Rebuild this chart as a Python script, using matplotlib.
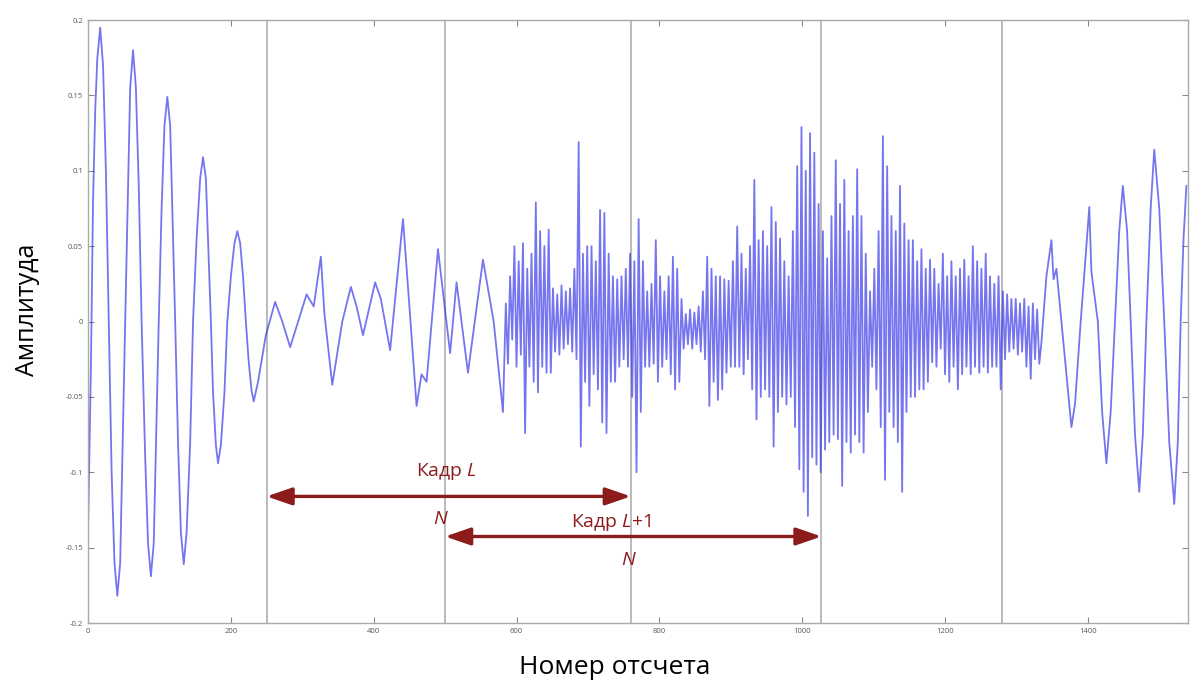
import numpy as np
import matplotlib
matplotlib.use("Agg")
import matplotlib.pyplot as plt

plt.rcParams['font.family'] = ['Open Sans', 'DejaVu Sans']
plt.rcParams['mathtext.fontset'] = 'custom'
plt.rcParams['mathtext.it'] = 'Open Sans:italic'
plt.rcParams['mathtext.rm'] = 'Open Sans'

# smooth start of the signal: sample index / amplitude along the curve
head_n = [0, 4, 7, 10, 13, 17, 21, 25, 29, 33, 37, 41, 45, 48, 52, 56, 59, 63,
          67, 71, 75, 80, 84, 88, 92, 95, 99, 103, 107, 111, 115, 118, 122, 126,
          130, 134, 138, 143, 147, 152, 157, 161, 165, 168, 172, 175, 179, 182,
          186, 191, 195, 200, 205, 209, 213, 217, 221, 225, 229, 232, 238, 249,
          262, 272, 283, 306, 316, 326, 331, 342, 356, 368, 376, 385, 402, 410,
          423, 441, 450, 460, 467, 474, 490, 507, 516, 532, 553, 568, 581]
head_a = [-0.138, -0.03, 0.08, 0.14, 0.175, 0.195, 0.17, 0.1, 0.0, -0.1, -0.16,
          -0.182, -0.16, -0.09, 0.0, 0.09, 0.155, 0.18, 0.155, 0.09, 0.0, -0.09,
          -0.147, -0.169, -0.147, -0.085, 0.0, 0.075, 0.13, 0.149, 0.13, 0.075,
          0.0, -0.08, -0.14, -0.161, -0.14, -0.08, 0.0, 0.055, 0.095, 0.109, 0.095,
          0.055, 0.0, -0.047, -0.082, -0.094, -0.082, -0.047, 0.0, 0.03, 0.052,
          0.06, 0.052, 0.03, 0.0, -0.027, -0.046, -0.053, -0.04, -0.009,
          0.013, 0.0, -0.017, 0.018, 0.01, 0.043, 0.005, -0.042, 0.0, 0.023,
          0.01, -0.009, 0.026, 0.015, -0.019, 0.068, 0.01, -0.056, -0.035, -0.04,
          0.048, -0.021, 0.026, -0.034, 0.041, 0.0, -0.06]

# noisy middle part, alternating peaks/troughs every 3 samples from sample 585
mid_start = 585
mid_step = 3
mid_a = [
    0.012, -0.028, 0.030, -0.012, 0.050, -0.030, 0.040, -0.022, 0.052, -0.074,
    0.035, -0.030, 0.045, -0.040, 0.079, -0.047, 0.060, -0.030, 0.050, -0.034,
    0.061, -0.034, 0.022, -0.020, 0.018, -0.022, 0.024, -0.018, 0.020, -0.015,
    0.022, -0.020, 0.035, -0.025, 0.119, -0.083, 0.045, -0.040, 0.050, -0.056,
    0.050, -0.035, 0.040, -0.045, 0.074, -0.067, 0.072, -0.074, 0.045, -0.040,
    0.030, -0.040, 0.028, -0.030, 0.030, -0.025, 0.035, -0.030, 0.045, -0.050,
    0.040, -0.100, 0.068, -0.060, 0.040, -0.030, 0.020, -0.030, 0.025, -0.028,
    0.054, -0.040, 0.030, -0.030, 0.020, -0.025, 0.030, -0.035, 0.043, -0.045,
    0.035, -0.040, 0.015, -0.018, 0.005, -0.015, 0.008, -0.018, 0.006, -0.015,
    0.010, -0.020, 0.020, -0.025, 0.043, -0.056, 0.035, -0.040, 0.030, -0.052,
    0.030, -0.045, 0.028, -0.034, 0.027, -0.030, 0.040, -0.030, 0.063, -0.030,
    0.045, -0.035, 0.035, -0.025, 0.050, -0.045, 0.094, -0.065, 0.054, -0.050,
    0.060, -0.045, 0.050, -0.050, 0.076, -0.083, 0.066, -0.060, 0.055, -0.050,
    0.040, -0.055, 0.030, -0.050, 0.060, -0.070, 0.103, -0.098, 0.129, -0.113,
    0.100, -0.129, 0.125, -0.090, 0.112, -0.095, 0.078, -0.100, 0.060, -0.085,
    0.042, -0.080, 0.070, -0.075, 0.107, -0.078, 0.078, -0.109, 0.094, -0.080,
    0.060, -0.087, 0.070, -0.075, 0.101, -0.080, 0.070, -0.087, 0.045, -0.060,
    0.020, -0.030, 0.035, -0.045, 0.060, -0.070, 0.123, -0.105, 0.103, -0.060,
    0.070, -0.070, 0.060, -0.080, 0.090, -0.113, 0.065, -0.060, 0.054, -0.050,
    0.054, -0.050, 0.040, -0.045, 0.048, -0.045, 0.035, -0.040, 0.041, -0.027,
    0.035, -0.030, 0.025, -0.018, 0.045, -0.035, 0.030, -0.040, 0.040, -0.030,
    0.030, -0.045, 0.035, -0.035, 0.041, -0.030, 0.030, -0.035, 0.050, -0.030,
    0.040, -0.034, 0.035, -0.030, 0.045, -0.034, 0.030, -0.030, 0.025, -0.030,
    0.030, -0.045, 0.020, -0.025, 0.018, -0.020, 0.015, -0.018, 0.015, -0.022,
    0.012, -0.020, 0.015, -0.030, 0.010, -0.038, 0.012, -0.025, 0.008, -0.028,
]

# smooth tail
tail_n = [1335, 1342, 1349, 1352, 1356, 1365, 1377, 1382, 1390, 1398, 1402, 1405,
          1414, 1420, 1426, 1432, 1438, 1444, 1449, 1455, 1460, 1466, 1472, 1477,
          1482, 1488, 1493, 1500, 1507, 1514, 1521, 1526, 1530, 1534, 1538]
tail_a = [-0.014, 0.03, 0.054, 0.028, 0.035, -0.01, -0.07, -0.055, 0.0, 0.05,
          0.076, 0.033, 0.0, -0.06, -0.094, -0.06, 0.0, 0.06, 0.09, 0.06, 0.0,
          -0.075, -0.113, -0.075, 0.0, 0.075, 0.114, 0.075, 0.0, -0.08, -0.121,
          -0.08, 0.0, 0.055, 0.09]

frame_marks = [250, 500, 760, 1027, 1280]
frame1 = (250, 760)
frame2 = (500, 1027)

xticks = [0, 200, 400, 600, 800, 1000, 1200, 1400]
yticks = [-0.2, -0.15, -0.1, -0.05, 0, 0.05, 0.1, 0.15, 0.2]
ytick_labels = ['-0.2', '-0.15', '-0.1', '-0.05', '0', '0.05', '0.1', '0.15', '0.2']

mid_n = mid_start + mid_step * np.arange(len(mid_a))
n = np.concatenate([head_n, mid_n, tail_n])
a = np.concatenate([head_a, mid_a, tail_a])

fig = plt.figure(figsize=(11.98, 6.86), dpi=100)
ax = fig.add_axes([0.0735, 0.0918, 0.918, 0.879])

for m in frame_marks:
    ax.axvline(m, color='#b5b5b5', lw=1.3, zorder=1)

ax.plot(n, a, color='#2b2be8', lw=1.3, alpha=0.65, zorder=2)

red = '#8c1c1c'
arrow_style = dict(arrowstyle='<|-|>,head_length=1.1,head_width=0.38',
                   color=red, lw=2.4, shrinkA=0, shrinkB=0, mutation_scale=14)
ax.annotate('', xy=(frame1[0], -0.116), xytext=(frame1[1], -0.116),
            arrowprops=arrow_style, zorder=4)
ax.annotate('', xy=(frame2[0], -0.1426), xytext=(frame2[1], -0.1426),
            arrowprops=arrow_style, zorder=4)

ax.text(502, -0.0995, 'Кадр $L$', color=red, fontsize=14, ha='center', va='center')
ax.text(494, -0.131, '$N$', color=red, fontsize=14, ha='center', va='center')
ax.text(733, -0.133, 'Кадр $L{+}1$', color=red, fontsize=14, ha='center', va='center')
ax.text(757, -0.158, '$N$', color=red, fontsize=14, ha='center', va='center')

ax.set_xlim(0, 1540)
ax.set_ylim(-0.2, 0.2)
ax.set_xticks(xticks)
ax.set_yticks(yticks)
ax.set_yticklabels(ytick_labels)
ax.tick_params(direction='in', length=4, width=0.8, colors='#888888',
               labelsize=5.5, labelcolor='#555555', top=True, right=True)
for s in ax.spines.values():
    s.set_color('#aaaaaa')
    s.set_linewidth(1.0)

fig.text(28 / 1198, 1 - 310 / 686, 'Амплитуда', rotation=90, fontsize=18,
         ha='center', va='center')
fig.text(615 / 1198, 1 - 668 / 686, 'Номер отсчета', fontsize=19,
         ha='center', va='center')

fig.savefig('out.png', dpi=100)
